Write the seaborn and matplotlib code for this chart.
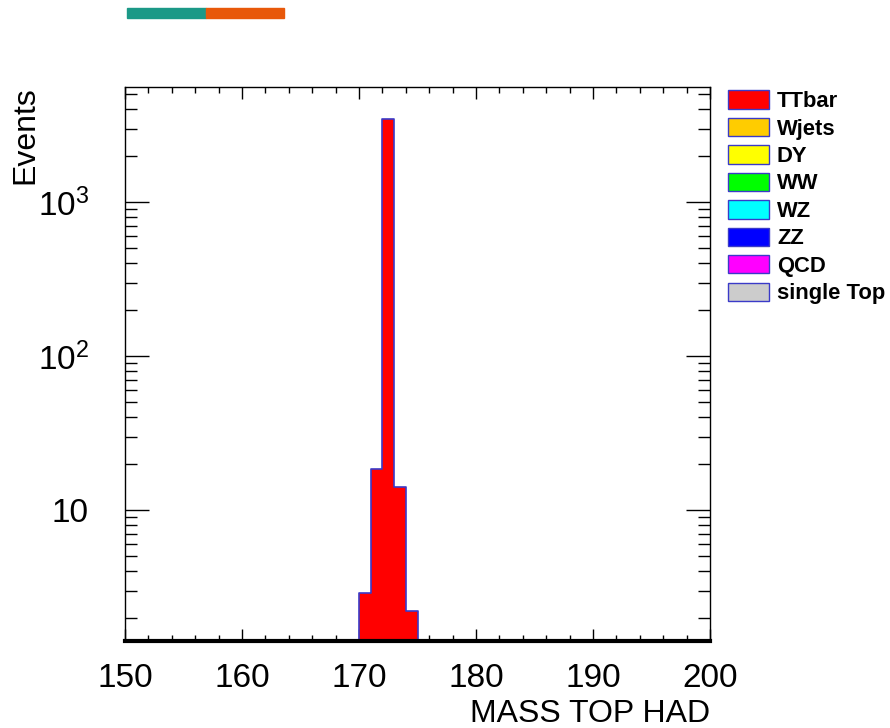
import numpy as np
import matplotlib
matplotlib.use("Agg")
import matplotlib.pyplot as plt
import seaborn as sns
from matplotlib.patches import Patch, Rectangle
from matplotlib.ticker import FixedLocator, FuncFormatter, MultipleLocator

# histogram content (bins of width 1 GeV, everything else empty)
bin_centers = [170.5, 171.5, 172.5, 173.5, 174.5]
bin_counts = [2.9, 18.5, 3460.0, 14.1, 2.2]
bin_edges = list(range(150, 201))

samples = ["TTbar", "Wjets", "DY", "WW", "WZ", "ZZ", "QCD", "single Top"]
sample_colors = ["#ff0000", "#ffcc00", "#ffff00", "#00ff00",
                 "#00ffff", "#0000ff", "#ff00ff", "#cccccc"]

sns.set_style("ticks")
plt.rcParams["font.family"] = ["Liberation Sans", "DejaVu Sans"]
plt.rcParams["mathtext.fontset"] = "custom"
plt.rcParams["mathtext.rm"] = "Liberation Sans"
plt.rcParams["mathtext.it"] = "Liberation Sans"
plt.rcParams["text.color"] = "black"
plt.rcParams["xtick.labelcolor"] = "black"
plt.rcParams["ytick.labelcolor"] = "black"

fig = plt.figure(figsize=(8.9, 7.28), dpi=100)
ax = fig.add_axes([125 / 890, 1 - 641 / 728, 585 / 890, 554 / 728])

sns.histplot(x=bin_centers, weights=bin_counts, bins=bin_edges,
             element="step", fill=True, color="#ff0000", alpha=1,
             edgecolor="#3a3ac8", linewidth=1.2, ax=ax)

ax.set_yscale("log")
ax.set_xlim(150, 200)
ax.set_ylim(1.41, 5580)

# ROOT-like axes
ax.xaxis.set_major_locator(MultipleLocator(10))
ax.xaxis.set_minor_locator(MultipleLocator(2))
ax.yaxis.set_major_locator(FixedLocator([10, 100, 1000]))
minors = [m * 10 ** d for d in range(0, 4) for m in range(2, 10)]
ax.yaxis.set_minor_locator(FixedLocator(minors))
ax.yaxis.set_minor_formatter(FuncFormatter(lambda v, p: ""))
ax.yaxis.set_major_formatter(FuncFormatter(
    lambda v, p: "10" if v == 10 else r"$10^{%d}$" % round(np.log10(v))))

ax.tick_params(axis="both", which="both", direction="in",
               top=True, right=True, labelsize=24, color="black",
               labelcolor="black")
ax.tick_params(axis="x", which="major", length=8.6, width=1, pad=16)
ax.tick_params(axis="x", which="minor", length=4.3, width=1)
ax.tick_params(axis="y", which="major", length=17, width=1, pad=26)
ax.tick_params(axis="y", which="minor", length=8.6, width=1)

for s in ["left", "right", "top"]:
    ax.spines[s].set_linewidth(1)
    ax.spines[s].set_color("black")
ax.spines["bottom"].set_linewidth(3)
ax.spines["bottom"].set_color("black")

ax.set_xlabel("")
ax.set_ylabel("")
fig.text(710 / 890, 1 - 714 / 728, "MASS TOP HAD", ha="right", va="center",
         fontsize=23)
fig.text(25 / 890, 1 - 86 / 728, "Events", ha="center", va="top",
         rotation=90, fontsize=23)

handles = [Patch(facecolor=c, edgecolor="#3a3ac8", linewidth=1) for c in sample_colors]
fig.legend(handles, samples, loc="upper left",
           bbox_to_anchor=(724 / 890, 1 - 86 / 728), frameon=False,
           prop={"weight": "bold", "size": 15.8},
           handlelength=1.86, handleheight=0.91, handletextpad=0.35,
           labelspacing=0.26, borderaxespad=0, borderpad=0.2)

# coloured strip at the top
fig.patches.append(Rectangle((127 / 890, 1 - 18 / 728), 79 / 890, 10 / 728,
                             transform=fig.transFigure, color="#1b9987", zorder=5))
fig.patches.append(Rectangle((206 / 890, 1 - 18 / 728), 78 / 890, 10 / 728,
                             transform=fig.transFigure, color="#e8580a", zorder=5))

fig.savefig("out.png", dpi=100)
